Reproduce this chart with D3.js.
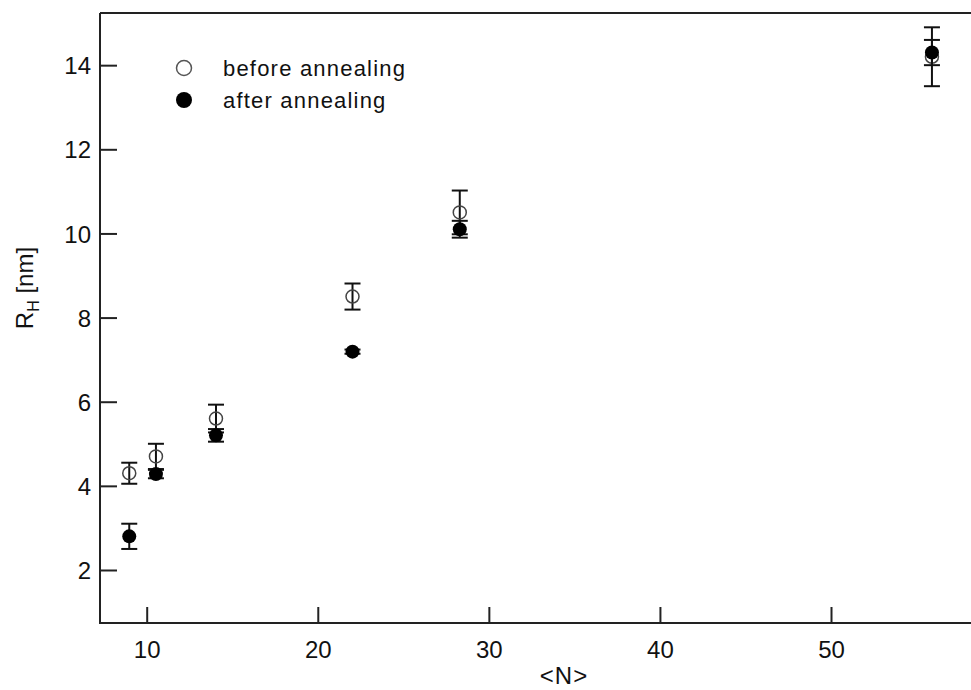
<!DOCTYPE html>
<html>
<head>
<meta charset="utf-8">
<script src="https://cdn.jsdelivr.net/npm/d3@7"></script>
<style>
  body { margin: 0; background: #fff; }
  text { font-family: "Liberation Sans", Arial, Helvetica, sans-serif; fill: #111; }
</style>
</head>
<body>
<div id="chart"></div>
<script>
// values
const sizeN = [8.98, 10.54, 14.05, 22.03, 28.3, 55.9];
const beforeRH = [4.3, 4.7, 5.6, 8.5, 10.5, 14.2];
const beforeErr = [0.25, 0.3, 0.33, 0.31, 0.52, 0.7];
const afterRH = [2.8, 4.28, 5.2, 7.19, 10.1, 14.3];
const afterErr = [0.3, 0.1, 0.15, 0.05, 0.2, 0.3];
const xTicks = [10, 20, 30, 40, 50];
const yTicks = [2, 4, 6, 8, 10, 12, 14];
const legendLabels = ['before annealing', 'after annealing'];

const width = 971;
const height = 690;
const margin = { top: 13, right: -2, bottom: 67, left: 100 };

const svg = d3.select('#chart').append('svg')
  .attr('width', width)
  .attr('height', height);

const x = d3.scaleLinear()
  .domain([7.27, 58.3])
  .range([margin.left, width - margin.right]);
const y = d3.scaleLinear()
  .domain([0.74, 15.24])
  .range([height - margin.bottom, margin.top]);

const axisColor = '#222';

// frame: left, bottom, top (no right side)
const frame = svg.append('g').attr('stroke', axisColor).attr('stroke-width', 2);
frame.append('line')
  .attr('x1', x.range()[0]).attr('x2', x.range()[0])
  .attr('y1', y.range()[0] + 1).attr('y2', y.range()[1]);
frame.append('line')
  .attr('x1', x.range()[0]).attr('x2', x.range()[1])
  .attr('y1', y.range()[0]).attr('y2', y.range()[0]);
frame.append('line')
  .attr('x1', x.range()[0]).attr('x2', x.range()[1])
  .attr('y1', y.range()[1]).attr('y2', y.range()[1]);

// x axis, ticks pointing inward
const xAxis = svg.append('g')
  .attr('transform', `translate(0,${y.range()[0]})`)
  .call(d3.axisBottom(x).tickValues(xTicks).tickSizeInner(-16).tickSizeOuter(0).tickPadding(0));
xAxis.select('.domain').remove();
xAxis.selectAll('.tick line').attr('stroke', axisColor).attr('stroke-width', 2);
xAxis.selectAll('.tick text')
  .attr('y', 35)
  .attr('dy', 0)
  .attr('font-size', 24)
  .attr('fill', '#111');

// y axis
const yAxis = svg.append('g')
  .attr('transform', `translate(${x.range()[0]},0)`)
  .call(d3.axisLeft(y).tickValues(yTicks).tickSizeInner(-17).tickSizeOuter(0).tickPadding(0));
yAxis.select('.domain').remove();
yAxis.selectAll('.tick line').attr('stroke', axisColor).attr('stroke-width', 2);
yAxis.selectAll('.tick text')
  .attr('x', -9)
  .attr('dy', '0.36em')
  .attr('font-size', 24)
  .attr('fill', '#111');

// axis titles
svg.append('text')
  .attr('x', 564)
  .attr('y', 684)
  .attr('text-anchor', 'middle')
  .attr('font-size', 24)
  .attr('letter-spacing', 1)
  .text('<N>');

const yTitle = svg.append('text')
  .attr('transform', 'translate(33,288) rotate(-90)')
  .attr('text-anchor', 'middle')
  .attr('font-size', 24);
yTitle.append('tspan').text('R');
yTitle.append('tspan').attr('font-size', 16).attr('dy', 6).text('H');
yTitle.append('tspan').attr('dy', -6).text(' [nm]');

// data rows
const rows = sizeN.map((n, i) => ({
  n,
  before: beforeRH[i], beforeErr: beforeErr[i],
  after: afterRH[i], afterErr: afterErr[i],
}));

const capHalf = 8;
function errorBars(g, key, errKey) {
  const bars = g.selectAll(null).data(rows).enter().append('g')
    .attr('stroke', '#111').attr('stroke-width', 2);
  bars.append('line')
    .attr('x1', d => x(d.n)).attr('x2', d => x(d.n))
    .attr('y1', d => y(d[key] - d[errKey])).attr('y2', d => y(d[key] + d[errKey]));
  bars.append('line')
    .attr('x1', d => x(d.n) - capHalf).attr('x2', d => x(d.n) + capHalf)
    .attr('y1', d => y(d[key] + d[errKey])).attr('y2', d => y(d[key] + d[errKey]));
  bars.append('line')
    .attr('x1', d => x(d.n) - capHalf).attr('x2', d => x(d.n) + capHalf)
    .attr('y1', d => y(d[key] - d[errKey])).attr('y2', d => y(d[key] - d[errKey]));
}

const plot = svg.append('g');
errorBars(plot, 'before', 'beforeErr');
plot.selectAll('.open').data(rows).enter().append('circle')
  .attr('class', 'open')
  .attr('cx', d => x(d.n)).attr('cy', d => y(d.before))
  .attr('r', 6.5)
  .attr('fill', 'none')
  .attr('stroke', '#444')
  .attr('stroke-width', 1.5);
errorBars(plot, 'after', 'afterErr');
plot.selectAll('.filled').data(rows).enter().append('circle')
  .attr('class', 'filled')
  .attr('cx', d => x(d.n)).attr('cy', d => y(d.after))
  .attr('r', 7)
  .attr('fill', '#000');

// legend
const legend = svg.append('g');
legendLabels.forEach((label, i) => {
  const cy = 68 + i * 32;
  legend.append('circle')
    .attr('cx', 184).attr('cy', cy).attr('r', i === 0 ? 7.5 : 8)
    .attr('fill', i === 0 ? 'none' : '#000')
    .attr('stroke', i === 0 ? '#555' : 'none')
    .attr('stroke-width', 1.5);
  legend.append('text')
    .attr('x', 223).attr('y', cy + 8)
    .attr('font-size', 22)
    .attr('letter-spacing', 1.2)
    .text(label);
});
</script>
</body>
</html>
